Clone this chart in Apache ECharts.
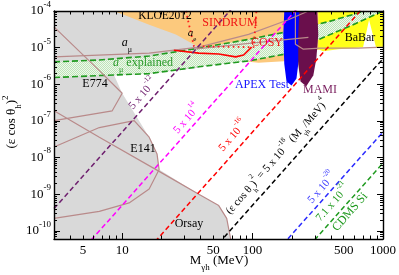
<!DOCTYPE html>
<html><head><meta charset="utf-8">
<script src="https://cdn.jsdelivr.net/npm/echarts@6/dist/echarts.min.js"></script>
<style>html,body{margin:0;padding:0;background:#fff}#c{width:399px;height:275px}</style>
</head><body><div id="c"></div>
<script>
// ---------- axis ranges and ticks ----------
const massRange = [3, 1000];
const couplingRange = [6e-11, 1e-4];
const xLabelValues = [5, 10, 50, 100, 500, 1000];
const xMajorTicks = [10, 100, 1000];
const xMinorTicks = [4, 5, 6, 7, 8, 9, 20, 30, 40, 50, 60, 70, 80, 90, 200, 300, 400, 500, 600, 700, 800, 900];
const yLabelValues = [1e-10, 1e-9, 1e-8, 1e-7, 1e-6, 1e-5, 1e-4];
const yMinorTicks = [];
for (let k = -11; k <= -5; k++) for (let m = 2; m <= 9; m++) { const v = m * Math.pow(10, k); if (v > 6.5e-11 && v < 1e-4) yMinorTicks.push(v); }

// ---------- excluded regions: [mass MeV, (eps cos theta)^2] ----------
const beamDumpRegion = [[3,1e-4],[38.7,1e-4],[38.7,2.83e-6],[16.1,1.95e-6],[8.69,1.73e-6],[10,5.7e-7],[12.35,1.67e-7],[16.1,3.6e-8],[18.5,1.26e-8],[19.2,4.7e-9],[38.7,1.0e-9],[55,4.9e-10],[63.3,2.2e-10],[67.9,6e-11],[3,6e-11]];
const kloeRegion = [[8.4,1e-4],[319,1e-4],[331,9.1e-6],[245,6.7e-6],[188,4.35e-6],[111,3.85e-6],[82.4,4.35e-6],[50.4,5.9e-6],[38.7,1.03e-5],[25.8,2.3e-5],[16.1,4.2e-5],[9.49,8.8e-5]];
const babarRegion = [[319,1e-4],[1000,1e-4],[1000,1.03e-5],[884,1.03e-5],[782,5.75e-5],[703,1.03e-5],[453,9.1e-6],[348,8.0e-6],[319,9.1e-6]];
const amuBandUpper = [[3,4.1e-6],[6.68,4.6e-6],[16.1,5.9e-6],[38.7,9.7e-6],[93.2,1.68e-5],[188,2.75e-5],[380,5.1e-5],[644,8.8e-5],[716,1e-4]];
const amuBandLower = [[3,1.53e-6],[6.68,1.73e-6],[16.1,1.95e-6],[38.7,3.0e-6],[93.2,4.35e-6],[179,6.7e-6],[361,2.0e-5],[590,4.2e-5],[965,9.4e-5]];
const apexRegion = [[175,1e-4],[254,1e-4],[245,1.24e-5],[224,3.6e-6],[217,1.43e-6],[199,9.3e-7],[182,1.2e-6],[175,3.6e-6],[172,2.3e-5]];
const mamiRegion = [[228,1e-4],[313,1e-4],[319,2.3e-5],[308,4.9e-6],[292,1.73e-6],[258,8.8e-7],[233,1.2e-6],[224,3.6e-6],[224,2.3e-5]];

// ---------- contour lines ----------
const amuLine = [[3,5.6e-6],[16.1,7.1e-6],[38.7,1.03e-5],[93.2,2.3e-5],[188,5.75e-5],[268,1e-4]];
const aeLine = [[35.5,9.1e-6],[111,1.4e-5],[268,1.9e-5]];
const e774Line = [[3,3.7e-5],[6.68,2.35e-6],[10,5.7e-7],[8.39,1.89e-7],[3,1.02e-7]];
const e141Line = [[3,1.94e-8],[6.68,6.6e-8],[12.35,1.02e-7],[16.1,3.6e-8],[18.5,1.26e-8],[19.2,4.7e-9],[16.1,1.38e-9],[11.3,5.8e-10],[6.68,3.4e-10],[3,2.2e-10]];
const orsayLine = [[3,1.89e-7],[6.68,3.6e-8],[19.2,4.2e-9],[38.7,1.0e-9],[55,4.9e-10],[63.3,2.2e-10],[67.9,6e-11]];
const mamiEdgeLine = [[213,1e-4],[213,1.24e-5],[245,9.1e-6],[331,9.7e-6],[644,9.7e-6],[1000,1.03e-5]];
const sindrumLine = [[30.8,1e-4],[35.5,1.09e-5],[102,1.03e-5],[107,1e-4]];
const cosyLine = [[24.9,8.5e-6],[38.7,7.1e-6],[55,6.7e-6],[74.2,5.6e-6],[85.4,6.3e-6],[98.3,1.03e-5]];

// ---------- reference lines (eps cos theta)^2 = C (M/MeV)^4, endpoints at M = 3 and 1000 ----------
const ref12 = [[3,4.05e-10],[1000,5]];
const ref14 = [[3,4.05e-12],[1000,5e-2]];
const ref16 = [[3,4.05e-14],[1000,5e-4]];
const ref18 = [[3,4.05e-16],[1000,5e-6]];
const ref20 = [[3,4.05e-18],[1000,5e-8]];
const ref21 = [[3,5.75e-19],[1000,7.1e-9]];

const F = 'Liberation Serif';
const chart = echarts.init(document.getElementById('c'), null, {renderer: 'canvas'});

// light green checker pattern for the a_mu band
const pc = document.createElement('canvas'); pc.width = 2; pc.height = 2;
const pctx = pc.getContext('2d');
pctx.fillStyle = '#eef8ec'; pctx.fillRect(0, 0, 2, 2);
pctx.fillStyle = '#bfe4b8'; pctx.fillRect(0, 0, 1, 1); pctx.fillRect(1, 1, 1, 1);

function poly(name, pts, fill, z) {
  return {type: 'custom', name, data: pts, z, silent: true, clip: true,
    renderItem: (params, api) => {
      if (params.dataIndex !== 0) return;
      return {type: 'polygon', shape: {points: pts.map(p => api.coord(p))}, style: {fill: fill}};
    }};
}
function line(name, pts, color, width, dash, z) {
  return {type: 'line', name, data: pts, z, silent: true, showSymbol: false, symbol: 'none', clip: true,
    lineStyle: {color, width, type: dash || 'solid', cap: 'butt'}, animation: false};
}
const bandPts = amuBandUpper.concat(amuBandLower.slice().reverse());

function rich(size, color) {
  const sm = Math.round(size * 0.68);
  return {
    n: {fontSize: size, fontFamily: F, fill: color, lineHeight: size + 9},
    i: {fontSize: size, fontFamily: F, fill: color, fontStyle: 'italic', lineHeight: size + 9},
    p: {fontSize: sm, fontFamily: F, fill: color, verticalAlign: 'top', lineHeight: sm},
    s: {fontSize: sm, fontFamily: F, fill: color, verticalAlign: 'bottom', lineHeight: sm}
  };
}
function txt(x, y, text, color, size, rot) {
  return {type: 'text', x, y, rotation: rot || 0, z: 100, silent: true,
    style: {text, fill: color, fontSize: size, fontFamily: F, align: 'center', verticalAlign: 'middle',
      lineHeight: size + 9, rich: rich(size, color)}};
}
const R = 0.852;

const axisBase = {type: 'log', logBase: 10, z: 20, splitLine: {show: false}, minorTick: {show: false}};
const frame = {show: true, lineStyle: {color: '#000', width: 1.4}};
const yRich = {
  a: {fontSize: 13, fontFamily: F, color: '#000', lineHeight: 22},
  b: {fontSize: 9, fontFamily: F, color: '#000', verticalAlign: 'top', lineHeight: 9}
};

chart.setOption({
  animation: false,
  grid: {left: 54, right: 14, top: 6, bottom: 36},
  xAxis: [
    Object.assign({}, axisBase, {min: massRange[0], max: massRange[1], position: 'bottom', axisLine: frame,
      axisTick: {show: true, inside: true, length: 6, customValues: xMajorTicks, lineStyle: {color: '#000', width: 1}},
      axisLabel: {show: true, customValues: xLabelValues, formatter: v => String(Math.round(v)), fontFamily: F, fontSize: 13, color: '#000', margin: 5}}),
    Object.assign({}, axisBase, {min: massRange[0], max: massRange[1], position: 'bottom', axisLine: {show: false},
      axisTick: {show: true, inside: true, length: 3.5, customValues: xMinorTicks, lineStyle: {color: '#000', width: 1}},
      axisLabel: {show: false}}),
    Object.assign({}, axisBase, {min: massRange[0], max: massRange[1], position: 'top', axisLine: frame,
      axisTick: {show: true, inside: true, length: 6, customValues: xMajorTicks, lineStyle: {color: '#000', width: 1}},
      axisLabel: {show: false}}),
    Object.assign({}, axisBase, {min: massRange[0], max: massRange[1], position: 'top', axisLine: {show: false},
      axisTick: {show: true, inside: true, length: 3.5, customValues: xMinorTicks, lineStyle: {color: '#000', width: 1}},
      axisLabel: {show: false}})
  ],
  yAxis: [
    Object.assign({}, axisBase, {min: couplingRange[0], max: couplingRange[1], position: 'left', axisLine: frame,
      axisTick: {show: true, inside: true, length: 6, customValues: yLabelValues, lineStyle: {color: '#000', width: 1}},
      axisLabel: {show: true, customValues: yLabelValues, margin: 3, rich: yRich,
        formatter: v => '{a|10}{b|' + Math.round(Math.log10(v)) + '}'}}),
    Object.assign({}, axisBase, {min: couplingRange[0], max: couplingRange[1], position: 'left', axisLine: {show: false},
      axisTick: {show: true, inside: true, length: 3, customValues: yMinorTicks, lineStyle: {color: '#000', width: 1}},
      axisLabel: {show: false}}),
    Object.assign({}, axisBase, {min: couplingRange[0], max: couplingRange[1], position: 'right', axisLine: frame,
      axisTick: {show: true, inside: true, length: 6, customValues: yLabelValues, lineStyle: {color: '#000', width: 1}},
      axisLabel: {show: false}}),
    Object.assign({}, axisBase, {min: couplingRange[0], max: couplingRange[1], position: 'right', axisLine: {show: false},
      axisTick: {show: true, inside: true, length: 3, customValues: yMinorTicks, lineStyle: {color: '#000', width: 1}},
      axisLabel: {show: false}})
  ],
  series: [
    poly('E774/E141/Orsay', beamDumpRegion, '#d9d9d9', 1),
    poly('KLOE2012', kloeRegion, '#fcc97d', 2),
    poly('BaBar', babarRegion, '#ffff1a', 3),
    poly('a_mu explained', bandPts, {image: pc, repeat: 'repeat'}, 4),
    line('band upper', amuBandUpper, '#1f9a1f', 1.6, [6, 3], 5),
    line('band lower', amuBandLower, '#1f9a1f', 1.6, [6, 3], 5),
    poly('APEX Test', apexRegion, '#0000ff', 6),
    poly('MAMI', mamiRegion, '#6a0f4c', 7),
    line('a_mu', amuLine, '#b98a8a', 1.2, null, 8),
    line('a_e', aeLine, '#b98a8a', 1.2, null, 8),
    line('E774', e774Line, '#b98a8a', 1.2, null, 8),
    line('E141', e141Line, '#b98a8a', 1.2, null, 8),
    line('Orsay', orsayLine, '#b98a8a', 1.2, null, 8),
    line('MAMI edge', mamiEdgeLine, '#b98a8a', 1.2, null, 8),
    line('SINDRUM', sindrumLine, '#ff1a1a', 1.8, [1.6, 3.4], 9),
    line('COSY', cosyLine, '#ff0000', 1.6, null, 9),
    line('5e-12', ref12, '#6e1f6e', 1.5, [5, 3], 10),
    line('5e-14', ref14, '#ff00ff', 1.5, [5, 3], 10),
    line('5e-16', ref16, '#ff0000', 1.5, [5, 3], 10),
    line('5e-18', ref18, '#000000', 1.5, [5, 3], 10),
    line('5e-20', ref20, '#2a2aff', 1.5, [5, 3], 10),
    line('7.1e-21', ref21, '#1f9a1f', 1.5, [5, 3], 10)
  ],
  graphic: [
    txt(165, 16, 'KLOE2012', '#000', 11.5),
    txt(230, 23, 'SINDRUM', '#f01414', 12),
    txt(267, 43, 'COSY', '#f01414', 12),
    txt(360, 38, 'BaBar', '#000', 12),
    txt(262, 85, 'APEX Test', '#1414ff', 12),
    txt(320, 90, 'MAMI', '#7a1f5f', 12),
    txt(127, 43, '{i|a}{s|μ}', '#000', 12),
    txt(192, 33, '{i|a}{s|e}', '#000', 11),
    txt(143, 63, '{i|a}{s|μ} explained', '#2a9a2a', 12),
    txt(95, 84, 'E774', '#000', 12),
    txt(143, 149, 'E141', '#000', 12),
    txt(189, 224, 'Orsay', '#000', 12),
    txt(143, 94, '5 x 10{p|-12}', '#6e1f6e', 11, R),
    txt(187, 119, '5 x 10{p|14}', '#ff00ff', 11, R),
    txt(233, 136, '5 x 10{p|-16}', '#ff0000', 11, R),
    txt(277, 157, '(ε cos θ{s|h}){p|2} = 5 x 10{p|-18} (M{s|γh}/MeV){p|4}', '#000', 11, R),
    txt(322, 188, '5 x 10{p|-20}', '#3a3aff', 11, R),
    txt(333, 203, '7.1 x 10{p|-21}', '#1f9a1f', 11, R),
    txt(350, 212, 'CDMS Si', '#1f9a1f', 12, R),
    txt(12, 122, '(ε cos θ{s|h}){p|2}', '#000', 13, Math.PI / 2),
    txt(219, 261, 'M{s|γh} (MeV)', '#000', 13)
  ]
});
</script></body></html>
